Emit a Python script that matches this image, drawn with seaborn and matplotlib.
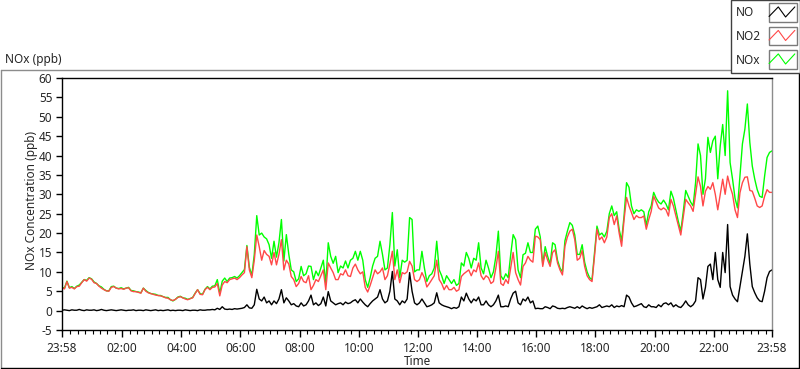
import matplotlib

matplotlib.use("Agg")
import matplotlib.dates as mdates
import matplotlib.pyplot as plt
import matplotlib.ticker as mticker
import pandas as pd
import seaborn as sns
from matplotlib.lines import Line2D
from matplotlib.patches import Rectangle

# 5-minute readings (ppb), 23:58 to 23:58 the next day, one row per hour
no2 = [
    5.9, 5.6, 7.5, 5.8, 6.0, 5.6, 6.2, 6.3, 7.2, 8.0, 7.6, 8.4,
    8.1, 7.2, 7.0, 6.3, 5.8, 5.4, 5.1, 5.0, 6.0, 6.2, 5.8, 5.6,
    5.7, 5.5, 5.8, 5.9, 5.1, 4.9, 4.9, 4.7, 4.5, 5.8, 5.0, 4.6,
    4.4, 4.2, 4.0, 3.9, 3.8, 3.6, 3.3, 3.2, 2.8, 2.6, 2.9, 3.4,
    3.6, 3.3, 3.0, 2.8, 3.1, 3.3, 4.4, 5.4, 4.2, 4.1, 5.4, 6.0,
    5.4, 6.0, 6.1, 7.0, 3.8, 6.6, 7.5, 7.2, 8.0, 8.2, 8.4, 8.0,
    8.5, 9.2, 9.8, 16.5, 10.5, 8.5, 13.0, 19.5, 16.5, 13.0, 15.5, 14.5,
    14.0, 11.8, 15.0, 11.8, 14.5, 18.3, 10.5, 13.0, 12.0, 8.8, 8.0, 6.2,
    7.0, 8.8, 7.5, 7.2, 9.0, 5.4, 6.5, 8.0, 7.5, 9.0, 10.5, 5.4,
    12.3, 11.0, 9.8, 8.0, 8.0, 9.5, 9.2, 10.5, 9.0, 8.8, 11.0, 12.0,
    10.5, 9.5, 10.0, 6.0, 4.8, 6.5, 8.5, 10.5, 9.5, 10.0, 11.0, 8.0,
    9.0, 12.0, 15.3, 8.0, 10.5, 7.2, 9.8, 9.5, 10.0, 12.7, 11.5, 8.0,
    7.5, 8.0, 9.8, 8.5, 6.1, 7.0, 8.0, 9.0, 13.0, 8.0, 7.0, 5.4,
    6.5, 5.4, 5.4, 6.0, 5.0, 5.4, 8.8, 9.5, 10.0, 10.5, 9.0, 10.5,
    10.0, 12.3, 9.0, 8.0, 9.0, 8.5, 7.0, 7.5, 11.0, 15.3, 7.0, 6.5,
    8.0, 7.0, 11.0, 15.0, 9.8, 8.0, 6.6, 11.4, 12.3, 14.0, 13.0, 12.5,
    19.2, 19.0, 18.3, 11.4, 15.0, 13.0, 11.4, 15.0, 15.7, 12.3, 10.5, 9.2,
    16.6, 19.0, 20.5, 21.0, 18.3, 13.0, 13.5, 15.5, 11.4, 9.0, 8.0, 7.5,
    14.0, 21.0, 18.3, 19.0, 17.5, 19.0, 24.0, 25.0, 22.2, 24.4, 20.0, 16.6,
    23.5, 29.2, 27.0, 25.3, 23.5, 24.5, 24.0, 24.0, 24.4, 21.0, 23.5, 25.6,
    29.5, 28.0, 26.5, 26.0, 26.5, 26.0, 24.4, 28.7, 27.0, 24.5, 22.0, 19.5,
    24.0, 28.7, 27.8, 27.0, 25.6, 30.0, 34.5, 32.0, 27.0, 30.8, 32.0, 31.3,
    33.0, 30.0, 26.0, 30.0, 33.9, 30.0, 34.7, 32.0, 30.0, 26.0, 24.0, 30.4,
    33.0, 34.4, 34.5, 31.0, 30.8, 29.0, 27.0, 26.6, 27.0, 29.5, 31.2, 30.5, 30.5,
]
no = [
    0.1, 0.2, 0.1, 0.0, 0.2, 0.1, 0.1, 0.3, 0.1, 0.0, 0.2, 0.1,
    0.1, 0.2, 0.0, 0.1, 0.3, 0.1, 0.0, 0.1, 0.2, 0.1, 0.0, 0.1,
    0.2, 0.1, 0.0, 0.1, 0.1, 0.2, 0.0, 0.1, 0.1, 0.0, 0.2, 0.1,
    0.0, 0.1, 0.2, 0.0, 0.1, 0.0, 0.1, 0.2, 0.0, 0.1, 0.0, 0.1,
    0.1, 0.0, 0.2, 0.1, 0.0, 0.1, 0.1, 0.0, 0.2, 0.1, 0.1, 0.2,
    0.2, 0.3, 0.2, 0.6, 0.3, 1.0, 0.4, 0.3, 0.4, 0.3, 0.5, 0.4,
    0.5, 0.6, 0.8, 1.5, 0.7, 0.6, 1.5, 5.5, 3.0, 2.5, 3.5, 2.0,
    2.5, 1.5, 2.5, 1.8, 3.0, 5.4, 2.0, 3.3, 2.5, 1.5, 1.8, 1.2,
    1.0, 2.0, 1.2, 1.5, 2.5, 4.0, 1.5, 2.0, 1.3, 1.8, 3.5, 1.2,
    4.9, 2.5, 2.0, 1.5, 1.8, 2.0, 1.5, 2.2, 1.8, 2.0, 2.5, 2.8,
    2.0, 3.0, 2.2, 1.5, 1.0, 1.8, 2.5, 3.0, 3.5, 5.4, 3.0, 2.0,
    2.5, 5.0, 10.1, 3.0, 2.5, 1.5, 2.5, 2.0, 3.0, 9.8, 5.0, 2.0,
    1.5, 2.0, 3.0, 2.0, 1.0, 1.2, 1.5, 2.0, 4.6, 2.0, 1.5, 1.2,
    1.0, 0.8, 0.5, 0.8, 0.6, 1.0, 3.5, 2.5, 4.5, 3.0, 2.0, 3.0,
    2.5, 3.5, 1.5, 1.5, 2.5, 1.5, 1.0, 1.5, 2.5, 4.0, 1.0, 1.0,
    1.2, 1.0, 3.0, 4.5, 5.0, 2.0, 1.5, 3.0, 2.5, 3.5, 2.0, 2.5,
    0.5, 0.6, 0.5, 0.5, 1.0, 0.8, 0.5, 1.2, 1.0, 0.6, 0.5, 0.6,
    0.5, 0.8, 1.0, 0.8, 0.6, 1.0, 0.6, 1.2, 0.8, 0.5, 0.8, 0.6,
    0.8, 1.0, 1.5, 0.8, 1.0, 1.2, 1.0, 1.5, 0.8, 1.2, 1.0, 1.3,
    1.0, 4.0, 3.5, 2.0, 1.0, 1.2, 1.5, 1.8, 1.0, 0.8, 1.5, 1.0,
    1.0, 0.8, 1.5, 1.0, 1.8, 2.0, 1.5, 2.0, 1.0, 1.5, 1.0, 0.8,
    1.5, 2.5, 1.5, 1.0, 1.5, 2.5, 8.5, 8.0, 3.0, 6.0, 11.4, 12.0,
    8.0, 15.0, 8.0, 6.0, 15.0, 9.8, 22.2, 6.2, 4.0, 3.0, 2.3, 6.2,
    10.0, 14.0, 19.8, 12.0, 6.2, 4.6, 3.3, 2.5, 2.3, 5.0, 8.5, 10.1, 10.5,
]
nox = [
    6.0, 5.8, 7.6, 5.9, 6.2, 5.7, 6.3, 6.6, 7.3, 8.0, 7.8, 8.5,
    8.2, 7.4, 7.0, 6.4, 6.1, 5.5, 5.1, 5.1, 6.2, 6.3, 5.8, 5.7,
    5.9, 5.6, 5.8, 6.0, 5.2, 5.1, 4.9, 4.8, 4.6, 5.8, 5.2, 4.7,
    4.4, 4.3, 4.2, 3.9, 3.9, 3.6, 3.4, 3.4, 2.8, 2.5, 2.9, 3.5,
    3.7, 3.3, 3.2, 2.9, 3.1, 3.4, 4.5, 5.4, 4.4, 4.2, 5.5, 6.2,
    5.6, 6.3, 6.4, 8.0, 4.5, 7.6, 8.4, 7.5, 8.4, 8.5, 8.8, 8.4,
    9.0, 9.8, 10.6, 16.8, 11.2, 9.1, 14.5, 24.5, 19.5, 20.0, 19.0, 18.5,
    17.0, 13.5, 17.9, 13.8, 17.5, 23.5, 12.8, 19.6, 14.5, 10.5, 10.0, 7.5,
    8.2, 11.4, 9.0, 9.5, 11.5, 11.4, 8.0, 10.2, 9.0, 11.0, 13.0, 7.0,
    17.5, 14.0, 12.2, 14.0, 9.8, 11.5, 11.0, 12.8, 11.0, 13.0, 13.5, 15.3,
    13.0, 15.3, 13.0, 8.0, 6.0, 8.5, 11.5, 13.5, 14.0, 17.9, 14.5, 10.5,
    11.0, 17.0, 25.3, 11.5, 15.7, 8.5, 13.0, 12.5, 13.0, 24.0, 23.5, 10.0,
    10.5, 10.5, 15.3, 11.0, 7.5, 9.0, 9.5, 11.0, 17.9, 10.5, 9.0, 7.0,
    9.0, 8.0, 7.0, 8.0, 6.5, 7.0, 12.3, 11.5, 15.0, 13.5, 11.0, 13.5,
    13.0, 17.5, 11.0, 9.5, 13.0, 11.0, 8.5, 10.0, 14.0, 20.5, 9.0, 8.0,
    9.5, 8.5, 14.4, 19.6, 18.3, 10.5, 8.5, 14.4, 14.8, 17.5, 15.0, 15.0,
    21.0, 21.8, 19.0, 12.0, 16.5, 14.0, 12.0, 17.5, 17.0, 13.0, 11.0, 10.0,
    18.0, 20.5, 22.7, 22.0, 19.5, 14.5, 14.5, 17.0, 12.5, 10.0, 8.5, 8.0,
    14.8, 21.8, 19.5, 20.0, 19.0, 20.5, 25.0, 27.0, 24.5, 25.5, 21.0, 18.0,
    24.5, 33.0, 31.8, 27.0, 25.0, 26.0, 25.6, 26.0, 25.5, 22.0, 25.5, 27.0,
    30.5, 29.0, 28.0, 27.5, 28.5, 27.5, 26.0, 30.8, 29.0, 26.0, 23.0, 20.5,
    25.5, 31.0, 29.5, 28.0, 27.0, 33.0, 43.0, 40.0, 30.0, 34.0, 44.7, 40.8,
    43.8, 45.0, 34.0, 42.5, 48.0, 40.0, 56.7, 38.2, 33.9, 29.0, 26.5, 34.7,
    43.0, 46.8, 53.3, 43.4, 37.3, 33.9, 31.2, 29.5, 29.2, 34.7, 39.5, 40.8, 41.2,
]

legend_labels = ["NO", "NO2", "NOx"]
draw_order = ["NOx", "NO2", "NO"]  # green under red under black
palette = {"NO": "#000000", "NO2": "#ff4848", "NOx": "#00ff00"}
y_ticks = list(range(-5, 61, 5))

W, H = 800, 369


def fx(px):
    return px / W


def fy(py):
    return 1 - py / H


times = pd.date_range("2023-05-01 23:58", periods=len(no), freq="5min")
df = pd.DataFrame({"Time": times, "NO": no, "NO2": no2, "NOx": nox}).melt(
    id_vars="Time", var_name="species", value_name="ppb"
)

sns.set_theme(style="white")
plt.rcParams["font.family"] = ["Noto Sans", "DejaVu Sans"]
plt.rcParams["font.size"] = 8

fig = plt.figure(figsize=(W / 100, H / 100), dpi=100, facecolor="white")
ax = fig.add_axes([fx(62), fy(330), fx(772) - fx(62), fy(78) - fy(330)])

sns.lineplot(
    data=df, x="Time", y="ppb", hue="species", hue_order=draw_order,
    palette=palette, estimator=None, lw=1.0, legend=False, ax=ax,
)

ax.set_xlim(times[0], times[-1])
ax.set_ylim(-5, 60)
ax.set_yticks(y_ticks)
ax.set_yticklabels([str(v) for v in y_ticks])

major = [times[0], *pd.date_range("2023-05-02 02:00", periods=11, freq="2h"), times[-1]]
minor = pd.date_range("2023-05-02 00:15", "2023-05-02 23:45", freq="15min")
ax.xaxis.set_major_locator(mticker.FixedLocator(mdates.date2num(major)))
ax.xaxis.set_minor_locator(mticker.FixedLocator(mdates.date2num(minor)))
ax.xaxis.set_major_formatter(mdates.DateFormatter("%H:%M"))

ax.tick_params(axis="x", which="major", direction="out", length=5, width=1,
               color="black", pad=3.5, labelsize=8.5, bottom=True)
ax.tick_params(axis="x", which="minor", direction="out", length=3, width=0.8,
               color="black", bottom=True)
ax.tick_params(axis="y", direction="out", length=4, width=1, color="black",
               pad=3, labelsize=8.5, left=True)

for side in ["left", "top", "bottom"]:
    ax.spines[side].set_color("black")
    ax.spines[side].set_linewidth(1)
ax.spines["right"].set_color("#8c8c8c")
ax.spines["right"].set_linewidth(1)

ax.set_xlabel("Time", fontsize=8.5)
ax.set_ylabel("NOx Concentration (ppb)", fontsize=8.5)
ax.xaxis.set_label_coords(0.5, (330 - 355) / 252)
ax.yaxis.set_label_coords((38 - 62) / 710, (330 - 200) / 252)

fig.text(fx(5), fy(59), "NOx (ppb)", fontsize=8.5, va="center", ha="left")

# outer panel frame
fig.add_artist(Line2D([fx(0.5), fx(730)], [fy(69.5), fy(69.5)], color="#8c8c8c", lw=1))
fig.add_artist(Line2D([fx(0.5), fx(0.5)], [fy(69.5), fy(368)], color="#8c8c8c", lw=1))
fig.add_artist(Line2D([fx(0.5), fx(798.5)], [fy(367.5), fy(367.5)], color="black", lw=1))
fig.add_artist(Line2D([fx(798.5), fx(798.5)], [fy(69.5), fy(367.5)], color="black", lw=1))

# legend panel
fig.add_artist(Rectangle((fx(730.5), fy(72.5)), fx(69), fy(0) - fy(72.5),
                         facecolor="white", edgecolor="#404040", lw=1, zorder=5))
zig_x = [0.02, 0.35, 0.61, 0.94]
zig_y = [0.28, 0.81, 0.25, 0.81]
for row, label in enumerate(legend_labels):
    top = 3.5 + row * 23.5
    fig.text(fx(736), fy(top + 9.5), label, fontsize=8.5, va="center", ha="left", zorder=6)
    fig.add_artist(Rectangle((fx(768.5), fy(top + 18)), fx(28), fy(top) - fy(top + 18),
                             facecolor="white", edgecolor="#7a7a7a", lw=1, zorder=6))
    fig.add_artist(Line2D([fx(768.5 + 28 * v) for v in zig_x],
                          [fy(top + 18 - 18 * v) for v in zig_y],
                          color=palette[label], lw=0.8, zorder=7))

fig.savefig("out.png", dpi=100, facecolor="white")
